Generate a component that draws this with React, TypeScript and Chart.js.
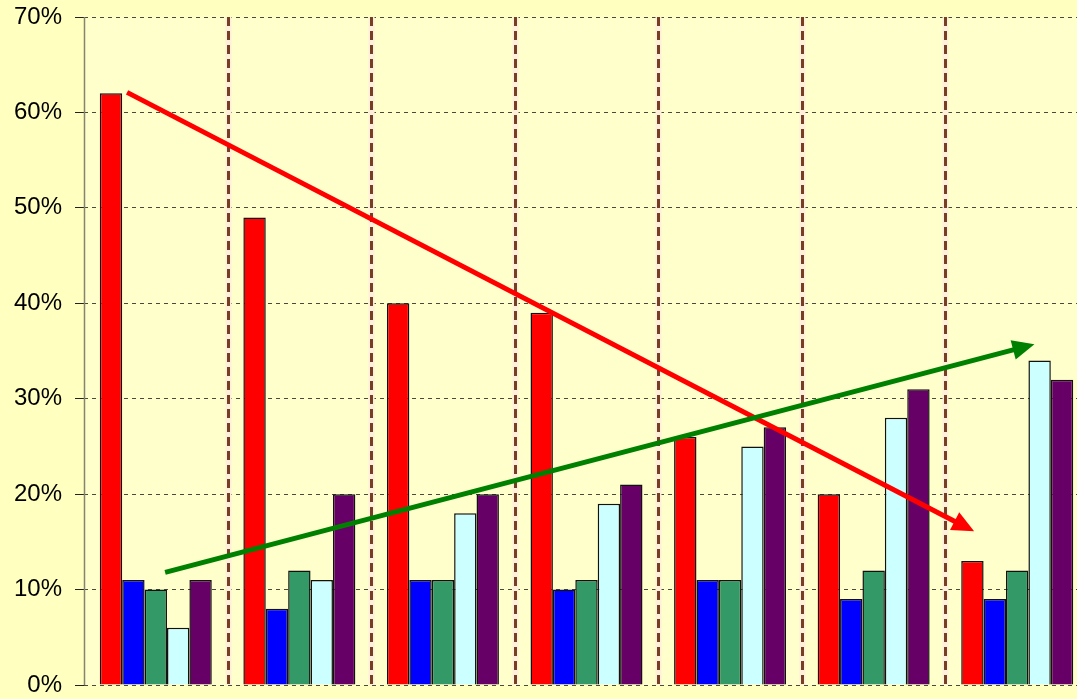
import React, { useEffect, useRef } from "react";
import { Chart, registerables } from "chart.js";

Chart.register(...registerables);

const categories = ["1", "2", "3", "4", "5", "6", "7"];
const seriesRed = [62, 49, 40, 39, 26, 20, 13];
const seriesBlue = [11, 8, 11, 10, 11, 9, 9];
const seriesGreen = [10, 12, 11, 11, 11, 12, 12];
const seriesCyan = [6, 11, 18, 19, 25, 28, 34];
const seriesPurple = [11, 20, 20, 21, 27, 31, 32];
const yTicks = [0, 10, 20, 30, 40, 50, 60, 70];

// trend arrows in data units: [category index, percent]
const redArrowFrom = [-0.2, 62.1];
const redArrowTo = [5.7, 16.1];
const greenArrowFrom = [0.065, 11.8];
const greenArrowTo = [6.12, 35.7];

const bgPlugin = {
  id: "bgPlugin",
  beforeDraw(chart: any) {
    const { ctx, chartArea } = chart;
    ctx.save();
    ctx.fillStyle = "#FFFFC0";
    ctx.fillRect(0, 0, chart.width, chart.height);
    ctx.fillStyle = "#FFFFCC";
    ctx.fillRect(chartArea.left, chartArea.top, chartArea.right - chartArea.left, chartArea.bottom - chartArea.top);
    ctx.restore();
  },
  beforeDatasetsDraw(chart: any) {
    const { ctx, chartArea } = chart;
    const xs = chart.scales.x;
    ctx.save();
    for (let i = 0; i < categories.length - 1; i++) {
      const x = Math.round(xs.getPixelForValue(i + 0.5)) + 0.5;
      ctx.strokeStyle = "#FFF0DC";
      ctx.lineWidth = 6;
      ctx.setLineDash([]);
      ctx.beginPath();
      ctx.moveTo(x, chartArea.top);
      ctx.lineTo(x, chartArea.bottom);
      ctx.stroke();
      ctx.strokeStyle = "#763E22";
      ctx.lineWidth = 3;
      ctx.setLineDash([9, 5]);
      ctx.beginPath();
      ctx.moveTo(x, chartArea.top);
      ctx.lineTo(x, chartArea.bottom);
      ctx.stroke();
    }
    // y axis line
    ctx.setLineDash([]);
    ctx.strokeStyle = "#85856E";
    ctx.lineWidth = 1.5;
    ctx.beginPath();
    ctx.moveTo(chartArea.left + 0.5, chartArea.top);
    ctx.lineTo(chartArea.left + 0.5, chartArea.bottom);
    ctx.stroke();
    ctx.restore();
  },
  afterDatasetsDraw(chart: any) {
    const { ctx } = chart;
    const xs = chart.scales.x;
    const ys = chart.scales.y;
    const drawArrow = (from: number[], to: number[], color: string) => {
      const x1 = xs.getPixelForValue(from[0]);
      const y1 = ys.getPixelForValue(from[1]);
      const x2 = xs.getPixelForValue(to[0]);
      const y2 = ys.getPixelForValue(to[1]);
      const ang = Math.atan2(y2 - y1, x2 - x1);
      const headLen = 22;
      const headW = 10;
      const bx = x2 - headLen * Math.cos(ang);
      const by = y2 - headLen * Math.sin(ang);
      ctx.save();
      ctx.strokeStyle = color;
      ctx.fillStyle = color;
      ctx.lineWidth = 5;
      ctx.setLineDash([]);
      ctx.beginPath();
      ctx.moveTo(x1, y1);
      ctx.lineTo(bx + 2 * Math.cos(ang), by + 2 * Math.sin(ang));
      ctx.stroke();
      ctx.beginPath();
      ctx.moveTo(x2, y2);
      ctx.lineTo(bx + headW * Math.sin(ang), by - headW * Math.cos(ang));
      ctx.lineTo(bx - headW * Math.sin(ang), by + headW * Math.cos(ang));
      ctx.closePath();
      ctx.fill();
      ctx.restore();
    };
    drawArrow(redArrowFrom, redArrowTo, "#FF0000");
    drawArrow(greenArrowFrom, greenArrowTo, "#008000");
  },
};

export default function App() {
  const ref = useRef<HTMLCanvasElement>(null);
  useEffect(() => {
    document.body.style.margin = "0";
    const mk = (data: number[], color: string) => ({
      data,
      backgroundColor: color,
      borderColor: "#111111",
      borderWidth: 1.5,
      barPercentage: 1,
      categoryPercentage: 0.78,
    });
    const chart = new Chart(ref.current!, {
      type: "bar",
      data: {
        labels: categories,
        datasets: [
          mk(seriesRed, "#FF0000"),
          mk(seriesBlue, "#0000FF"),
          mk(seriesGreen, "#339966"),
          mk(seriesCyan, "#CCFFFF"),
          mk(seriesPurple, "#660066"),
        ],
      },
      options: {
        animation: false,
        responsive: false,
        layout: { padding: { left: 0, right: 0, top: 17, bottom: 14 } },
        plugins: { legend: { display: false }, tooltip: { enabled: false } },
        scales: {
          x: { display: false },
          y: {
            min: 0,
            max: 70,
            afterFit(scale: any) {
              scale.width = 84;
              scale.paddingTop = 0;
              scale.paddingBottom = 0;
            },
            afterBuildTicks(scale: any) {
              scale.ticks = yTicks.map((v) => ({ value: v }));
            },
            ticks: {
              callback: (v: any) => v + "%",
              color: "#000000",
              padding: 13,
              font: { family: "'Liberation Sans', Arial, sans-serif", size: 24 },
            },
            grid: {
              color: "#4A4A3C",
              lineWidth: 1,
              tickLength: 9,
              tickColor: "#222222",
              tickBorderDash: [],
            },
            border: { display: false, dash: [4, 4] },
          },
        },
      },
      plugins: [bgPlugin],
    } as any);
    return () => chart.destroy();
  }, []);
  return (
    <div style={{ position: "fixed", left: 0, top: 0, width: 1077, height: 699, overflow: "hidden", background: "#FFFFC0" }}>
      <canvas ref={ref} width={1089} height={699} style={{ display: "block" }} />
    </div>
  );
}
